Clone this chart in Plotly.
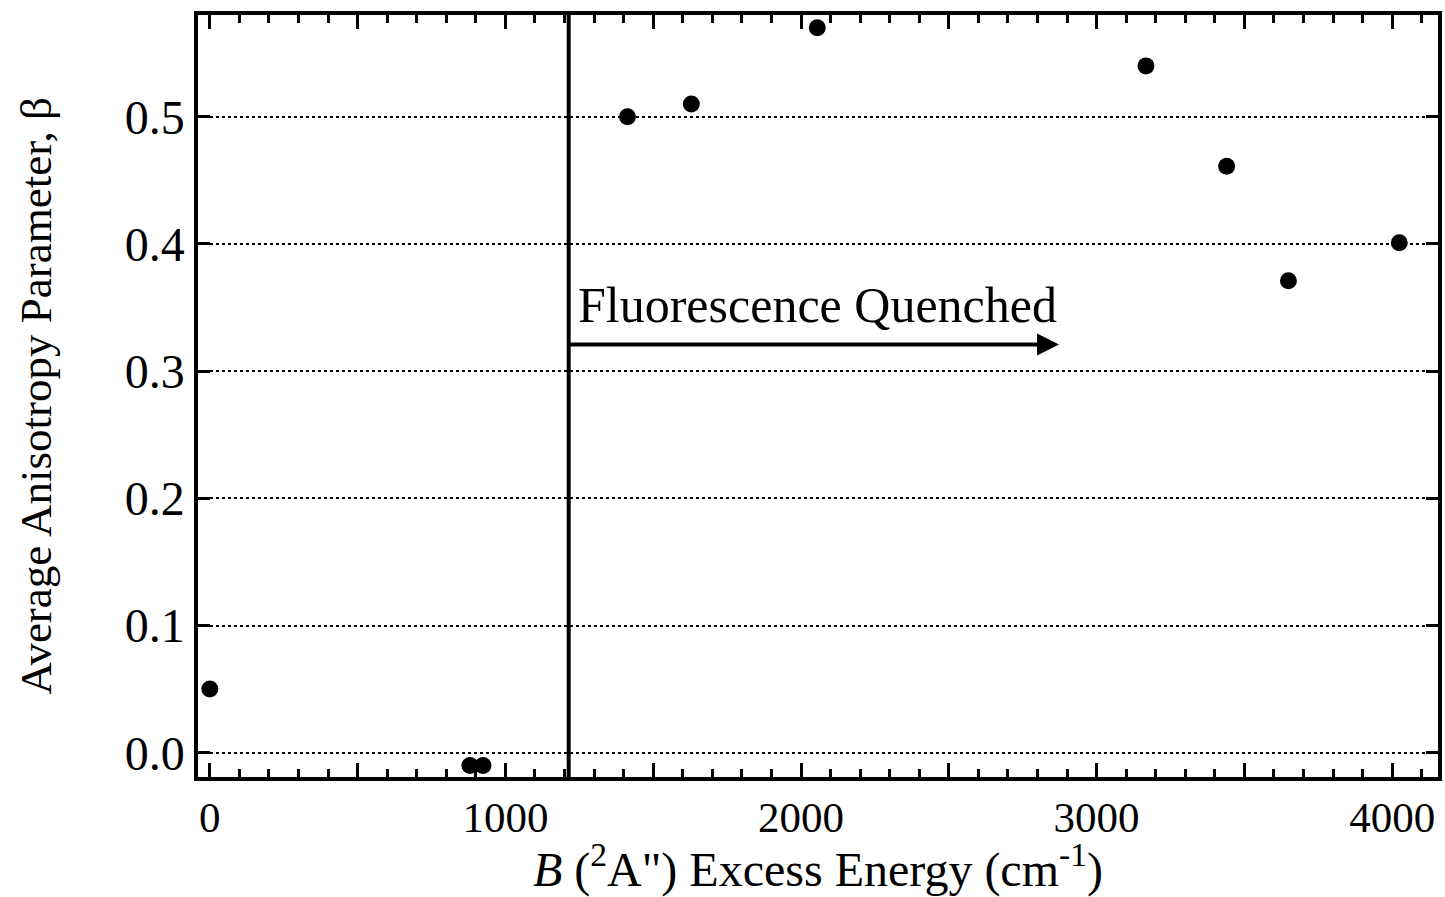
import plotly.graph_objects as go

energy = [0, 880, 924, 1413, 1629, 2055, 3167, 3440, 3649, 4024]
beta = [0.050, -0.010, -0.010, 0.500, 0.510, 0.570, 0.540, 0.461, 0.371, 0.401]
quench_x = 1214
arrow_end_x = 2873
arrow_y = 0.321
label_y = 0.352

x_major = [0, 500, 1000, 1500, 2000, 2500, 3000, 3500, 4000]
x_major_text = ["0", "", "1000", "", "2000", "", "3000", "", "4000"]
y_ticks = [0.0, 0.1, 0.2, 0.3, 0.4, 0.5]
y_text = ["0.0", "0.1", "0.2", "0.3", "0.4", "0.5"]

FONT = "Liberation Serif"

fig = go.Figure()
fig.add_trace(go.Scatter(
    x=energy, y=beta, mode="markers",
    marker=dict(color="black", size=17),
    showlegend=False, cliponaxis=False,
))

fig.add_shape(type="line", xref="x", yref="paper", x0=quench_x, x1=quench_x, y0=0, y1=1,
              line=dict(color="black", width=4))
fig.add_annotation(x=arrow_end_x, y=arrow_y, ax=quench_x, ay=arrow_y, axref="x", ayref="y",
                   xref="x", yref="y", showarrow=True, arrowhead=2, arrowsize=1.1,
                   arrowwidth=4, arrowcolor="black", text="")
fig.add_annotation(x=quench_x + 25, y=label_y, xref="x", yref="y", xanchor="left", yanchor="middle",
                   text="Fluorescence Quenched", showarrow=False,
                   font=dict(family=FONT, size=50, color="black"))

fig.update_layout(
    width=1445, height=897,
    margin=dict(l=198, r=3, t=15, b=120),
    paper_bgcolor="white", plot_bgcolor="white",
    font=dict(family=FONT, color="black", size=42),
    xaxis=dict(
        range=[-40, 4155], tickvals=x_major, ticktext=x_major_text,
        ticks="inside", ticklen=14, tickwidth=2.5, tickcolor="black",
        minor=dict(dtick=100, ticks="inside", ticklen=8, tickwidth=2.5, tickcolor="black", showgrid=False),
        showline=True, linewidth=3.5, linecolor="black", mirror="allticks",
        showgrid=False, zeroline=False,
        tickfont=dict(size=43),
        title=dict(text="<i>B</i> (<sup>2</sup>A\") Excess Energy (cm<sup>-1</sup>)", font=dict(size=48), standoff=10),
    ),
    yaxis=dict(
        range=[-0.0191, 0.58], tickvals=y_ticks, ticktext=y_text,
        ticks="inside", ticklen=12, tickwidth=3, tickcolor="black",
        showline=True, linewidth=3.5, linecolor="black", mirror="allticks",
        showgrid=True, gridcolor="black", gridwidth=2, griddash="dot",
        zeroline=False, tickfont=dict(size=48),
        title=dict(text="Average Anisotropy Parameter, β", font=dict(size=45), standoff=60),
    ),
)

fig.write_html("out.html")
